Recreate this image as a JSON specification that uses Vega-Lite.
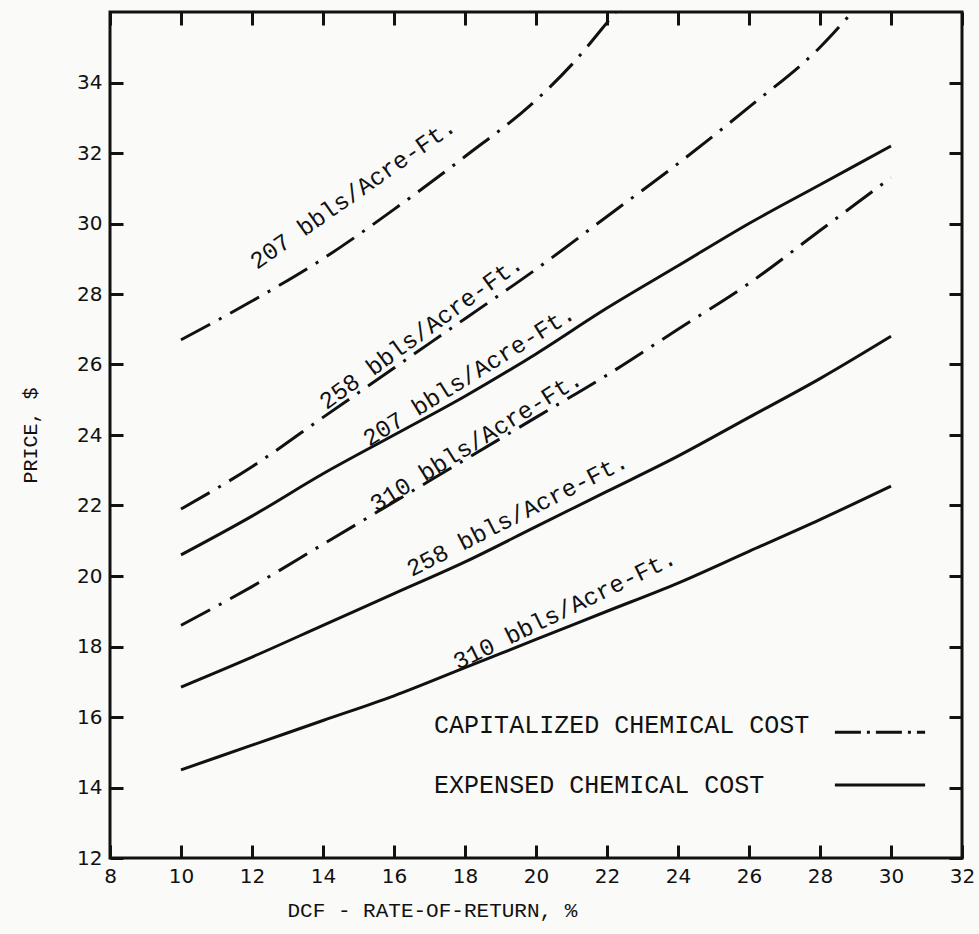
{
  "$schema": "https://vega.github.io/schema/vega-lite/v6.json",
  "width": 852,
  "height": 846,
  "autosize": {"type": "none"},
  "padding": {"left": 110, "top": 12, "right": 17, "bottom": 76},
  "background": "#fafaf8",
  "config": {
    "view": {"stroke": "#111111", "strokeWidth": 3},
    "axis": {"grid": true, "gridWidth": 3, "gridColor": "#111111", "gridOpacity": 1, "ticks": false, "domain": false, "labelColor": "#111111", "titleColor": "#111111"}
  },
  "datasets": {
    "curves": [
      {"series": "cap207", "kind": "cap", "x": 10, "y": 26.7},
      {"series": "cap207", "kind": "cap", "x": 12, "y": 27.8},
      {"series": "cap207", "kind": "cap", "x": 14, "y": 29.0},
      {"series": "cap207", "kind": "cap", "x": 16, "y": 30.4},
      {"series": "cap207", "kind": "cap", "x": 18, "y": 31.9},
      {"series": "cap207", "kind": "cap", "x": 20, "y": 33.5},
      {"series": "cap207", "kind": "cap", "x": 21, "y": 34.5},
      {"series": "cap207", "kind": "cap", "x": 22, "y": 35.7},
      {"series": "cap207", "kind": "cap", "x": 22.4, "y": 36.2},
      {"series": "cap258", "kind": "cap", "x": 10, "y": 21.9},
      {"series": "cap258", "kind": "cap", "x": 12, "y": 23.1},
      {"series": "cap258", "kind": "cap", "x": 14, "y": 24.5},
      {"series": "cap258", "kind": "cap", "x": 16, "y": 25.9},
      {"series": "cap258", "kind": "cap", "x": 18, "y": 27.3},
      {"series": "cap258", "kind": "cap", "x": 20, "y": 28.7},
      {"series": "cap258", "kind": "cap", "x": 22, "y": 30.2},
      {"series": "cap258", "kind": "cap", "x": 24, "y": 31.7},
      {"series": "cap258", "kind": "cap", "x": 26, "y": 33.3},
      {"series": "cap258", "kind": "cap", "x": 28, "y": 35.0},
      {"series": "cap258", "kind": "cap", "x": 29, "y": 36.1},
      {"series": "cap310", "kind": "cap", "x": 10, "y": 18.6},
      {"series": "cap310", "kind": "cap", "x": 12, "y": 19.7},
      {"series": "cap310", "kind": "cap", "x": 14, "y": 20.9},
      {"series": "cap310", "kind": "cap", "x": 16, "y": 22.1},
      {"series": "cap310", "kind": "cap", "x": 18, "y": 23.3},
      {"series": "cap310", "kind": "cap", "x": 20, "y": 24.5},
      {"series": "cap310", "kind": "cap", "x": 22, "y": 25.7},
      {"series": "cap310", "kind": "cap", "x": 24, "y": 27.0},
      {"series": "cap310", "kind": "cap", "x": 26, "y": 28.3},
      {"series": "cap310", "kind": "cap", "x": 28, "y": 29.8},
      {"series": "cap310", "kind": "cap", "x": 30, "y": 31.3},
      {"series": "exp207", "kind": "exp", "x": 10, "y": 20.6},
      {"series": "exp207", "kind": "exp", "x": 12, "y": 21.7},
      {"series": "exp207", "kind": "exp", "x": 14, "y": 22.9},
      {"series": "exp207", "kind": "exp", "x": 16, "y": 24.0},
      {"series": "exp207", "kind": "exp", "x": 18, "y": 25.1},
      {"series": "exp207", "kind": "exp", "x": 20, "y": 26.3},
      {"series": "exp207", "kind": "exp", "x": 22, "y": 27.6},
      {"series": "exp207", "kind": "exp", "x": 24, "y": 28.8},
      {"series": "exp207", "kind": "exp", "x": 26, "y": 30.0},
      {"series": "exp207", "kind": "exp", "x": 28, "y": 31.1},
      {"series": "exp207", "kind": "exp", "x": 30, "y": 32.2},
      {"series": "exp258", "kind": "exp", "x": 10, "y": 16.85},
      {"series": "exp258", "kind": "exp", "x": 12, "y": 17.7},
      {"series": "exp258", "kind": "exp", "x": 14, "y": 18.6},
      {"series": "exp258", "kind": "exp", "x": 16, "y": 19.5},
      {"series": "exp258", "kind": "exp", "x": 18, "y": 20.4},
      {"series": "exp258", "kind": "exp", "x": 20, "y": 21.4},
      {"series": "exp258", "kind": "exp", "x": 22, "y": 22.4},
      {"series": "exp258", "kind": "exp", "x": 24, "y": 23.4},
      {"series": "exp258", "kind": "exp", "x": 26, "y": 24.5},
      {"series": "exp258", "kind": "exp", "x": 28, "y": 25.6},
      {"series": "exp258", "kind": "exp", "x": 30, "y": 26.8},
      {"series": "exp310", "kind": "exp", "x": 10, "y": 14.5},
      {"series": "exp310", "kind": "exp", "x": 12, "y": 15.2},
      {"series": "exp310", "kind": "exp", "x": 14, "y": 15.9},
      {"series": "exp310", "kind": "exp", "x": 16, "y": 16.6},
      {"series": "exp310", "kind": "exp", "x": 18, "y": 17.4},
      {"series": "exp310", "kind": "exp", "x": 20, "y": 18.2},
      {"series": "exp310", "kind": "exp", "x": 22, "y": 19.0},
      {"series": "exp310", "kind": "exp", "x": 24, "y": 19.8},
      {"series": "exp310", "kind": "exp", "x": 26, "y": 20.7},
      {"series": "exp310", "kind": "exp", "x": 28, "y": 21.6},
      {"series": "exp310", "kind": "exp", "x": 30, "y": 22.55}
    ],
    "labels": [
      {"id": "cap207", "label": "207 bbls/Acre-Ft.", "x": 12.14, "y": 28.68},
      {"id": "cap258", "label": "258 bbls/Acre-Ft.", "x": 14.1, "y": 24.7},
      {"id": "exp207", "label": "207 bbls/Acre-Ft.", "x": 15.3, "y": 23.66},
      {"id": "cap310", "label": "310 bbls/Acre-Ft.", "x": 15.5, "y": 21.8},
      {"id": "exp258", "label": "258 bbls/Acre-Ft.", "x": 16.5, "y": 19.97},
      {"id": "exp310", "label": "310 bbls/Acre-Ft.", "x": 17.8, "y": 17.33}
    ],
    "legendText": [
      {"kind": "cap", "label": "CAPITALIZED CHEMICAL COST", "x": 17.13, "y": 15.77},
      {"kind": "exp", "label": "EXPENSED CHEMICAL COST", "x": 17.13, "y": 14.07}
    ],
    "legendLines": [
      {"kind": "cap", "x": 28.42, "y": 15.57},
      {"kind": "cap", "x": 30.96, "y": 15.57},
      {"kind": "exp", "x": 28.42, "y": 14.07},
      {"kind": "exp", "x": 30.96, "y": 14.07}
    ]
  },
  "layer": [
    {
      "data": {"name": "curves"},
      "transform": [{"filter": "datum.kind === 'cap'"}],
      "mark": {"type": "line", "color": "#111111", "strokeWidth": 3, "strokeDash": [33, 10, 3, 10], "clip": true, "interpolate": "monotone"},
      "encoding": {
        "x": {"field": "x", "type": "quantitative", "scale": {"domain": [8, 32], "nice": false, "zero": false},
          "axis": {"orient": "bottom", "values": [8, 10, 12, 14, 16, 18, 20, 22, 24, 26, 28, 30, 32], "gridDash": [13, 820, 13, 3000], "labelPadding": 8, "labelFont": "DejaVu Sans", "labelFontSize": 20, "labelFlush": false,
            "title": "DCF   -   RATE-OF-RETURN, %", "titleFont": "Liberation Mono", "titleFontSize": 21, "titleFontWeight": "normal", "titleAnchor": "start", "titleAlign": "left", "titleX": 177, "titleY": 52, "titleBaseline": "middle"}},
        "y": {"field": "y", "type": "quantitative", "scale": {"domain": [12, 36], "nice": false, "zero": false},
          "axis": {"orient": "left", "values": [12, 14, 16, 18, 20, 22, 24, 26, 28, 30, 32, 34], "gridDash": [13, 826, 13, 3000], "labelPadding": 8, "labelFont": "DejaVu Sans", "labelFontSize": 20, "labelFlush": false,
            "title": "PRICE, $", "titleFont": "Liberation Mono", "titleFontSize": 20, "titleFontWeight": "normal", "titleAngle": 270, "titleX": -80, "titleY": 423, "titleAlign": "center", "titleBaseline": "middle"}},
        "detail": {"field": "series"}
      }
    },
    {
      "data": {"name": "curves"},
      "transform": [{"filter": "datum.kind === 'exp'"}],
      "mark": {"type": "line", "color": "#111111", "strokeWidth": 3, "clip": true, "interpolate": "monotone"},
      "encoding": {
        "x": {"field": "x", "type": "quantitative"},
        "y": {"field": "y", "type": "quantitative"},
        "detail": {"field": "series"}
      }
    },
    {
      "data": {"name": "legendLines"},
      "transform": [{"filter": "datum.kind === 'cap'"}],
      "mark": {"type": "line", "color": "#111111", "strokeWidth": 3, "strokeDash": [26, 6, 3, 6]},
      "encoding": {
        "x": {"field": "x", "type": "quantitative"},
        "y": {"field": "y", "type": "quantitative"}
      }
    },
    {
      "data": {"name": "legendLines"},
      "transform": [{"filter": "datum.kind === 'exp'"}],
      "mark": {"type": "line", "color": "#111111", "strokeWidth": 3},
      "encoding": {
        "x": {"field": "x", "type": "quantitative"},
        "y": {"field": "y", "type": "quantitative"}
      }
    },
    {
      "data": {"name": "legendText"},
      "mark": {"type": "text", "align": "left", "baseline": "middle", "font": "Liberation Mono", "fontSize": 25, "color": "#111111"},
      "encoding": {
        "x": {"field": "x", "type": "quantitative"},
        "y": {"field": "y", "type": "quantitative"},
        "text": {"field": "label"}
      }
    },
    {
      "data": {"name": "labels"},
      "transform": [{"filter": "datum.id === 'cap207'"}],
      "mark": {"type": "text", "align": "left", "baseline": "alphabetic", "font": "Liberation Mono", "fontSize": 24, "color": "#111111", "angle": -35},
      "encoding": {"x": {"field": "x", "type": "quantitative"}, "y": {"field": "y", "type": "quantitative"}, "text": {"field": "label"}}
    },
    {
      "data": {"name": "labels"},
      "transform": [{"filter": "datum.id === 'cap258'"}],
      "mark": {"type": "text", "align": "left", "baseline": "alphabetic", "font": "Liberation Mono", "fontSize": 24, "color": "#111111", "angle": -36},
      "encoding": {"x": {"field": "x", "type": "quantitative"}, "y": {"field": "y", "type": "quantitative"}, "text": {"field": "label"}}
    },
    {
      "data": {"name": "labels"},
      "transform": [{"filter": "datum.id === 'exp207' || datum.id === 'cap310'"}],
      "mark": {"type": "text", "align": "left", "baseline": "alphabetic", "font": "Liberation Mono", "fontSize": 24, "color": "#111111", "angle": -32},
      "encoding": {"x": {"field": "x", "type": "quantitative"}, "y": {"field": "y", "type": "quantitative"}, "text": {"field": "label"}}
    },
    {
      "data": {"name": "labels"},
      "transform": [{"filter": "datum.id === 'exp258'"}],
      "mark": {"type": "text", "align": "left", "baseline": "alphabetic", "font": "Liberation Mono", "fontSize": 24, "color": "#111111", "angle": -27},
      "encoding": {"x": {"field": "x", "type": "quantitative"}, "y": {"field": "y", "type": "quantitative"}, "text": {"field": "label"}}
    },
    {
      "data": {"name": "labels"},
      "transform": [{"filter": "datum.id === 'exp310'"}],
      "mark": {"type": "text", "align": "left", "baseline": "alphabetic", "font": "Liberation Mono", "fontSize": 24, "color": "#111111", "angle": -26},
      "encoding": {"x": {"field": "x", "type": "quantitative"}, "y": {"field": "y", "type": "quantitative"}, "text": {"field": "label"}}
    }
  ]
}
